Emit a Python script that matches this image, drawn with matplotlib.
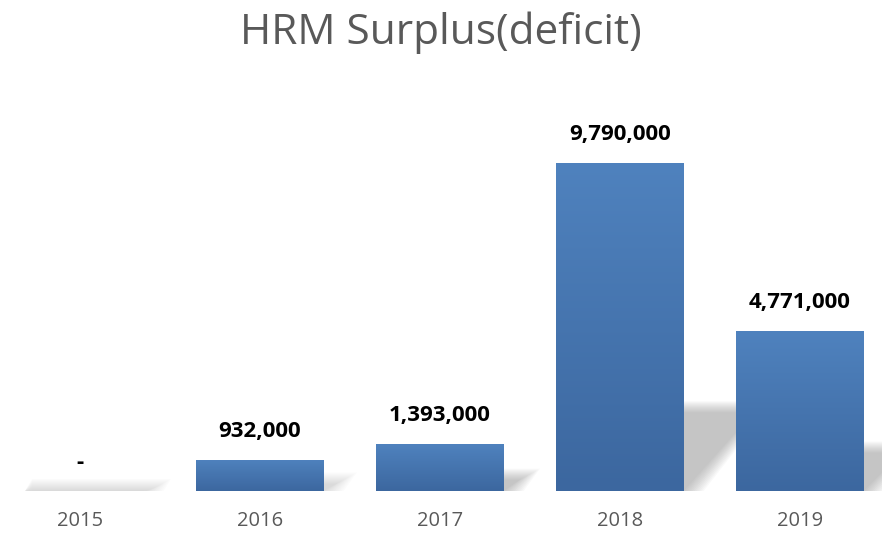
import numpy as np
import matplotlib.pyplot as plt
from matplotlib.patches import Polygon
from matplotlib.colors import LinearSegmentedColormap

# ---------------- Data ----------------
years = ["2015", "2016", "2017", "2018", "2019"]
surplus = [0, 932000, 1393000, 9790000, 4771000]

title = "HRM Surplus(deficit)"
bar_top = "#4F82BE"
bar_bottom = "#3C679F"
text_gray = "#595959"

# ---------------- Figure ----------------
fig = plt.figure(figsize=(8.82, 5.34), dpi=100)
ax = fig.add_axes([0, 43 / 534, 1, 391 / 534])
ax.set_xlim(-0.444, 4.456)
ax.set_ylim(0, 11.67e6)
ax.axis("off")

x = np.arange(len(years))
width = 0.71
bars = ax.bar(x, surplus, width=width, color="none", edgecolor="none", zorder=3)

# vertical gradient inside each bar
grad_cmap = LinearSegmentedColormap.from_list("bar", [bar_bottom, bar_top])
grad = np.linspace(0, 1, 256).reshape(-1, 1)
for b in bars:
    h = b.get_height()
    if h <= 0:
        continue
    x0 = b.get_x()
    x1 = x0 + b.get_width()
    im = ax.imshow(grad, cmap=grad_cmap, aspect="auto", origin="lower",
                   extent=(x0, x1, 0, h), zorder=3, interpolation="bicubic")
    im.set_clip_path(b)

# soft perspective shadows behind the bars
for b in bars:
    h = b.get_height()
    x0 = b.get_x()
    x1 = x0 + b.get_width()
    sh = max(h * 0.24, 0.03e6)
    dx = 0.35 * (h / 9.79e6) + 0.04
    a = 0.025 if h < 1e6 else 0.045
    for i in range(12):
        grow = i * 0.01
        pts = [(x0 + 0.05, 0), (x1 + grow, 0),
               (x1 + dx + grow, sh + grow * 3e6),
               (x0 + dx + 0.05, sh + grow * 3e6)]
        ax.add_patch(Polygon(pts, closed=True, facecolor="#7f7f7f",
                             edgecolor="none", alpha=a, zorder=1))

# value labels
for xi, v in zip(x, surplus):
    lab = "-" if v == 0 else f"{v:,}"
    ax.text(xi, v + 0.85e6, lab, ha="center", va="center",
            fontsize=16, fontweight="bold", color="black",
            family="Open Sans", zorder=4)

# category labels
for xi, yr in zip(x, years):
    fig.text((xi + 0.444) / 4.9, 13 / 534, yr, ha="center", va="center",
             fontsize=14.5, color=text_gray, family="Open Sans")

fig.text(0.5, 1 - 33 / 534, title, ha="center", va="center",
         fontsize=30.5, color=text_gray, family="Open Sans")

fig.savefig("out.png", dpi=100)
